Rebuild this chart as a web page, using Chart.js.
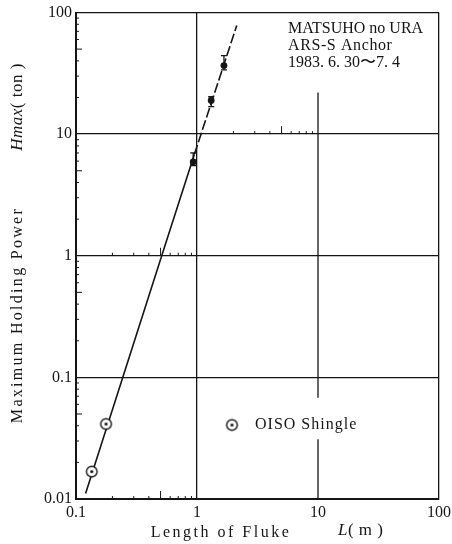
<!DOCTYPE html>
<html>
<head>
<meta charset="utf-8">
<script src="https://cdn.jsdelivr.net/npm/chart.js@4.4.0/dist/chart.umd.min.js"></script>
<style>body{margin:0;background:#fff}</style>
</head>
<body>
<canvas id="myChart" width="452" height="544"></canvas>
<script>
// OISO Shingle (open circles)
var oisoLength = [0.135, 0.177];
var oisoPower = [0.0168, 0.0414];
// MATSUHO no URA, ARS-S anchor (dots with range)
var matsuLength = [0.93, 1.31, 1.67];
var matsuPower = [5.9, 18.9, 36.6];
var matsuLow = [5.5, 16.8, 33.7];
var matsuHigh = [7.0, 20.3, 44.2];
// fitted line (last part dashed)
var fitLength = [0.120, 0.511, 0.95, 2.13];
var fitPower = [0.0111, 1, 6.8, 78];

var xTicks = [0.1, 1, 10, 100];
var xTickLabels = ["0.1", "1", "10", "100"];
var yTicks = [0.01, 0.1, 1, 10, 100];
var yTickLabels = ["0.01", "0.1", "1", "10", "100"];
var minorSteps = [2, 3, 4, 5, 6, 7, 8, 9];

var INK = "#151515";
var SERIF = "'Liberation Serif', 'DejaVu Serif', serif";

// marker: circle with a dot in it
var oisoMarker = document.createElement("canvas");
oisoMarker.width = 15; oisoMarker.height = 15;
(function() {
  var c = oisoMarker.getContext("2d");
  c.fillStyle = "#fff";
  c.strokeStyle = INK;
  c.lineWidth = 1.4;
  c.beginPath(); c.arc(7.5, 7.5, 5.3, 0, Math.PI * 2); c.fill(); c.stroke();
  c.fillStyle = INK;
  c.beginPath(); c.arc(7.5, 7.5, 1.6, 0, Math.PI * 2); c.fill();
})();

function pts(xs, ys) {
  return xs.map(function(x, i) { return {x: x, y: ys[i]}; });
}

// draw text pieces one after another, some italic
function drawRuns(c, runs, x, y, size, spacing, align) {
  c.letterSpacing = spacing + "px";
  var w = 0;
  runs.forEach(function(r) {
    c.font = (r.italic ? "italic " : "") + size + "px " + SERIF;
    r.w = c.measureText(r.text).width;
    w += r.w;
  });
  var cx = align === "center" ? x - w / 2 : x;
  runs.forEach(function(r) {
    c.font = (r.italic ? "italic " : "") + size + "px " + SERIF;
    c.fillText(r.text, cx, y);
    cx += r.w;
  });
  c.letterSpacing = "0px";
}

var extras = {
  id: "extras",
  afterDatasetsDraw: function(chart) {
    var c = chart.ctx, xs = chart.scales.x, ys = chart.scales.y;
    var a = chart.chartArea;
    c.save();
    c.strokeStyle = INK;
    c.fillStyle = INK;

    // x = 10 grid line, broken as in the original
    c.lineWidth = 1.3;
    var x10 = xs.getPixelForValue(10);
    [[22, 0.068], [0.031, 0.01]].forEach(function(s) {
      c.beginPath();
      c.moveTo(x10, ys.getPixelForValue(s[0]));
      c.lineTo(x10, ys.getPixelForValue(s[1]));
      c.stroke();
    });

    // minor ticks on the left axis
    c.lineWidth = 1;
    yTicks.slice(0, -1).forEach(function(d) {
      minorSteps.forEach(function(m) {
        var y = ys.getPixelForValue(d * m);
        c.beginPath(); c.moveTo(a.left, y); c.lineTo(a.left + (m === 5 ? 6 : 3), y); c.stroke();
      });
    });
    // minor ticks standing on some horizontal lines
    [[0.01, 0.1], [1, 0.1], [10, 1]].forEach(function(row) {
      var y = ys.getPixelForValue(row[0]);
      minorSteps.forEach(function(m) {
        var x = xs.getPixelForValue(row[1] * m);
        c.beginPath(); c.moveTo(x, y); c.lineTo(x, y - (m === 5 ? 8 : 3)); c.stroke();
      });
    });

    // range bars
    c.lineWidth = 1.3;
    matsuLength.forEach(function(L, i) {
      var x = xs.getPixelForValue(L);
      var y1 = ys.getPixelForValue(matsuHigh[i]), y2 = ys.getPixelForValue(matsuLow[i]);
      c.beginPath();
      c.moveTo(x, y1); c.lineTo(x, y2);
      c.moveTo(x - 3, y1); c.lineTo(x + 3, y1);
      c.moveTo(x - 3, y2); c.lineTo(x + 3, y2);
      c.stroke();
    });
    c.restore();
  },
  afterDraw: function(chart) {
    var c = chart.ctx;
    c.save();
    c.fillStyle = INK;
    c.textBaseline = "alphabetic";
    c.textAlign = "left";

    // note top right
    drawRuns(c, [{text: "MATSUHO no URA"}], 288, 33, 16, 0, "left");
    drawRuns(c, [{text: "ARS-S Anchor"}], 288, 50, 16, 0.6, "left");
    drawRuns(c, [{text: "1983. 6. 30〜7. 4"}], 288, 67, 16, 0, "left");

    // legend
    c.drawImage(oisoMarker, 232 - 7.5, 425 - 7.5);
    c.textBaseline = "middle";
    drawRuns(c, [{text: "OISO Shingle"}], 255, 425, 16, 1, "left");

    // x title
    drawRuns(c, [{text: "Length of Fluke"}], 221, 533, 16, 2.5, "center");
    drawRuns(c, [{text: "L", italic: true}, {text: "( m )"}], 338, 531, 17, 0.5, "left");

    // y title, rotated
    c.translate(18, 0);
    c.rotate(-Math.PI / 2);
    drawRuns(c, [{text: "Maximum Holding Power"}], -315, 0, 16, 2.3, "center");
    drawRuns(c, [{text: "Hmax", italic: true}, {text: "( ton )"}], -107, 0, 17, 0.5, "center");
    c.restore();
  }
};

var ctx = document.getElementById("myChart");
var myChart = new Chart(ctx, {
  type: "scatter",
  data: {
    datasets: [{
      label: "OISO Shingle",
      data: pts(oisoLength, oisoPower),
      pointStyle: oisoMarker
    }, {
      label: "ARS-S Anchor",
      data: pts(matsuLength, matsuPower),
      pointRadius: 3.4,
      backgroundColor: INK,
      borderWidth: 0
    }, {
      label: "fit",
      data: pts(fitLength, fitPower),
      showLine: true,
      borderColor: INK,
      borderWidth: 1.6,
      pointRadius: 0,
      segment: {
        borderDash: function(s) { return s.p1DataIndex === fitLength.length - 1 ? [10, 3] : undefined; }
      }
    }]
  },
  options: {
    responsive: false,
    animation: false,
    devicePixelRatio: 1,
    layout: {padding: {left: 0, right: 13, top: 12.5, bottom: 0}},
    plugins: {legend: {display: false}, tooltip: {enabled: false}},
    scales: {
      x: {
        type: "logarithmic",
        min: 0.1, max: 100,
        afterBuildTicks: function(s) { s.ticks = xTicks.map(function(v) { return {value: v}; }); },
        afterFit: function(s) { s.height = 45; s.paddingLeft = 0; s.paddingRight = 0; },
        ticks: {
          autoSkip: false, maxRotation: 0, padding: 4, color: INK,
          font: {family: SERIF, size: 16},
          callback: function(v, i) { return xTickLabels[i]; }
        },
        grid: {
          drawTicks: false, lineWidth: 1.3,
          color: function(c) { return c.tick && c.tick.value === 10 ? "rgba(0,0,0,0)" : INK; }
        },
        border: {color: INK, width: 2}
      },
      y: {
        type: "logarithmic",
        min: 0.01, max: 100,
        afterBuildTicks: function(s) { s.ticks = yTicks.map(function(v) { return {value: v}; }); },
        afterFit: function(s) { s.width = 76; s.paddingTop = 0; s.paddingBottom = 0; },
        ticks: {
          autoSkip: false, padding: 4, color: INK,
          font: {family: SERIF, size: 16},
          callback: function(v, i) { return yTickLabels[i]; }
        },
        grid: {drawTicks: false, lineWidth: 1.3, color: INK},
        border: {color: INK, width: 2}
      }
    }
  },
  plugins: [extras]
});
</script>
</body>
</html>
